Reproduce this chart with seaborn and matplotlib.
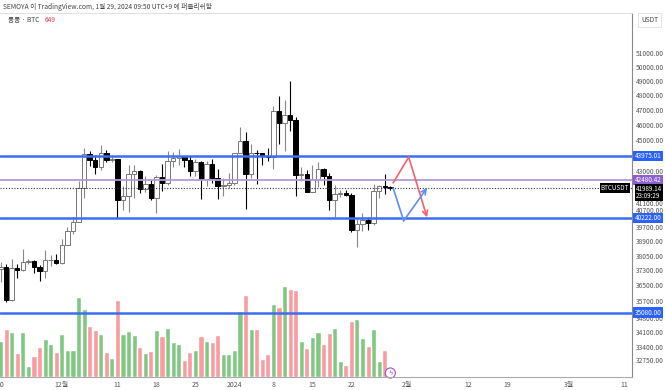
import pandas as pd
import numpy as np
import matplotlib
matplotlib.use('Agg')
import matplotlib.pyplot as plt
import seaborn as sns

# Datos diarios BTCUSDT (20 nov 2023 - 29 ene 2024)
start_date = '2023-11-20'
open_prices = [37359]
close_prices = [37448, 35741, 37410, 37289, 37720, 37796, 37479, 37254, 37832, 37858,
                37712, 38688, 39476, 39978, 41980, 44080, 43746, 43293, 44171, 43713,
                43789, 41244, 41492, 42869, 43023, 41941, 42261, 41365, 42660, 42265,
                43668, 43861, 43970, 43703, 43016, 43614, 42520, 43442, 42627, 42099,
                42156, 42283, 44179, 44946, 42845, 44151, 44145, 43968, 43929, 46951,
                46110, 46633, 46339, 42782, 42847, 41733, 42511, 43143, 42742, 41262,
                41618, 41665, 41545, 39507, 39845, 40077, 39934, 41816, 42120, 42031,
                41989.14]
high_prices = [37750, 37649, 37881, 37653, 38432, 37892, 37837, 37589, 38400, 38150,
               38175, 38999, 39676, 40250, 42420, 44488, 44295, 44042, 44700, 44358,
               44049, 43805, 42104, 43431, 43420, 43079, 42700, 42448, 42767, 43488,
               44283, 44242, 44398, 43988, 43946, 43800, 43637, 43684, 43805, 43125,
               42612, 42899, 44184, 45879, 45500, 44729, 44339, 44187, 44495, 47248,
               47972, 47695, 48969, 46515, 43257, 43080, 43400, 43578, 43198, 42930,
               42195, 41840, 41870, 41689, 40129, 40498, 40288, 42246, 42200, 42842,
               42090]
low_prices = [36681, 35632, 35700, 36870, 37251, 37617, 37150, 36722, 36882, 37500,
              37650, 37615, 38650, 39287, 39978, 41415, 43336, 42821, 43081, 43584,
              43565, 40222, 40680, 40555, 41400, 41700, 41740, 41250, 40500, 41792,
              42180, 43300, 43412, 43292, 42749, 42720, 41300, 42088, 42285, 41300,
              41520, 41965, 42180, 44148, 40750, 42613, 42258, 43400, 43662, 43175,
              44748, 44300, 45606, 41500, 42436, 41720, 41718, 42050, 42200, 40683,
              40280, 41446, 41500, 39431, 38555, 39485, 39506, 39822, 41395, 41620,
              41860]
volume_k = [36, 48, 45, 24, 45, 11, 21, 30, 38, 33, 25, 43, 27, 27, 80, 68, 51, 47, 43, 25,
            19, 77, 43, 46, 42, 30, 24, 26, 47, 41, 49, 35, 33, 17, 25, 27, 41, 36, 35, 42,
            23, 23, 27, 66, 82, 48, 48, 18, 23, 73, 70, 91, 88, 87, 36, 29, 40, 45, 33, 44,
            49, 16, 12, 56, 58, 39, 31, 48, 16, 27, 1.5]
open_prices = open_prices + close_prices[:-1]

# Lineas horizontales y precio actual
blue_levels = [43975.01, 40222.00, 35080.00]
purple_level = 42480.42
last_price = 41989.14
countdown = '23:09:29'

# Escenarios dibujados (dia desde inicio, precio)
red_path_day = [70.5, 73.3, 76.6]
red_path_price = [42300, 43900, 40250]
blue_path_day = [70.5, 72.4, 76.6]
blue_path_price = [41990, 40050, 42000]

# Eje de precios y fechas
price_ticks = [51000, 50000, 49000, 48000, 47000, 46000, 45000, 43000, 41100, 40700,
               39700, 38900, 38050, 37300, 36500, 35700, 34800, 34100, 33400, 32750]
date_ticks = ['2023-11-20', '2023-12-01', '2023-12-11', '2023-12-18', '2023-12-25',
              '2024-01-01', '2024-01-08', '2024-01-15', '2024-01-22', '2024-02-01',
              '2024-02-12', '2024-02-19', '2024-03-01', '2024-03-11']
date_labels = ['20', '12월', '11', '18', '25', '2024', '8', '15', '22', '2월',
               '12', '19', '3월', '11']

sns.set_style('white')
plt.rcParams['font.family'] = ['Noto Sans CJK KR', 'DejaVu Sans']

dates = pd.date_range(start_date, periods=len(close_prices), freq='D')
df = pd.DataFrame({'day': (dates - dates[0]).days,
                   'open': open_prices, 'high': high_prices,
                   'low': low_prices, 'close': close_prices,
                   'volume': volume_k})
df['dir'] = np.where(df['close'] >= df['open'], 'up', 'down')

fig = plt.figure(figsize=(6.65, 3.9), dpi=100, facecolor='white')
ax = fig.add_axes([0, 13 / 390, 632 / 665, 364 / 390])
ax2 = ax.twinx()
ax2.set_zorder(ax.get_zorder() - 1)
ax.patch.set_visible(False)

# Volumen
sns.barplot(data=df, x='day', y='volume', hue='dir', native_scale=True,
            palette={'up': '#80c882', 'down': '#f99ba0'}, width=0.92,
            dodge=False, errorbar=None, saturation=1, legend=False, ax=ax2)
ax2.set_ylim(0, 364)
ax2.set_yticks([])
ax2.set_ylabel('')
for s in ax2.spines.values():
    s.set_visible(False)

# Velas
up = df[df['dir'] == 'up']
down = df[df['dir'] == 'down']
ax.vlines(up['day'], up['low'], up['high'], color='#888888', lw=0.8, zorder=2)
ax.vlines(down['day'], down['low'], down['high'], color='black', lw=0.8, zorder=2)
body_min = df['open'] * 0.0007
for sub, fc, ec in [(up, 'white', '#777777'), (down, 'black', 'black')]:
    bottom = np.minimum(sub['open'], sub['close'])
    height = np.maximum((sub['close'] - sub['open']).abs(), body_min[sub.index])
    ax.bar(sub['day'], height, bottom=bottom, width=0.8, color=fc,
           edgecolor=ec, linewidth=0.7, zorder=3)

# Niveles
for lv in blue_levels:
    ax.axhline(lv, color='#3b6ef0', lw=1.8, zorder=4)
ax.axhline(purple_level, color='#b49ad8', lw=1.3, zorder=4)
ax.axhline(last_price, color='#333333', lw=0.8, ls=(0, (1, 1.5)), zorder=4)

# Escenarios
ax.plot(red_path_day[:2], red_path_price[:2], color='#f5606a', lw=1.2, zorder=5)
ax.annotate('', xy=(red_path_day[2], red_path_price[2]),
            xytext=(red_path_day[1], red_path_price[1]),
            arrowprops=dict(arrowstyle='->', color='#f5606a', lw=1.2,
                            mutation_scale=9, shrinkA=0, shrinkB=0), zorder=5)
ax.plot(blue_path_day[:2], blue_path_price[:2], color='#5b8ef5', lw=1.2, zorder=5)
ax.annotate('', xy=(blue_path_day[2], blue_path_price[2]),
            xytext=(blue_path_day[1], blue_path_price[1]),
            arrowprops=dict(arrowstyle='->', color='#5b8ef5', lw=1.2,
                            mutation_scale=9, shrinkA=0, shrinkB=0), zorder=5)

# Ejes
ax.set_yscale('log')
ax.set_ylim(31975, 54037)
ax.set_xlim(-0.1, 113.4)
ax.yaxis.tick_right()
ax.yaxis.set_minor_locator(matplotlib.ticker.NullLocator())
ax.set_yticks(price_ticks)
ax.set_yticklabels([f'{p:.2f}' for p in price_ticks])
tick_pos = [(pd.Timestamp(d) - dates[0]).days for d in date_ticks]
ax.set_xticks(tick_pos)
ax.set_xticklabels(date_labels)
ax.tick_params(axis='y', length=0, pad=3, labelsize=4.8, colors='#555555')
ax.tick_params(axis='x', length=0, pad=3, labelsize=5.0, colors='#555555')
ax.set_xlabel('')
ax.set_ylabel('')
ax.spines['left'].set_visible(False)
ax.spines['top'].set_color('#e0e0e0')
ax.spines['right'].set_color('#888888')
ax.spines['bottom'].set_color('#aaaaaa')

# Etiquetas en el eje de precios
ytr = ax.get_yaxis_transform()
box_kw = dict(transform=ytr, ha='left', va='center', fontsize=4.6, color='white',
              zorder=10, clip_on=False)
for lv in blue_levels:
    ax.text(1.004, lv, f'{lv:.2f}', **box_kw,
            bbox=dict(boxstyle='square,pad=0.2', fc='#2962ff', ec='none'))
ax.text(1.004, purple_level, f'{purple_level:.2f}', **box_kw,
        bbox=dict(boxstyle='square,pad=0.2', fc='#8c5fd0', ec='none'))
ax.annotate(f'{last_price:.2f}\n{countdown}', xy=(1.0, last_price), xycoords=ytr,
            xytext=(3, 2.5), textcoords='offset points', ha='left', va='top',
            fontsize=4.5, color='white', linespacing=0.9, zorder=10,
            annotation_clip=False,
            bbox=dict(boxstyle='square,pad=0.15', fc='black', ec='none'))
ax.annotate('BTCUSDT', xy=(1.0, last_price), xycoords=ytr, xytext=(-2, 0),
            textcoords='offset points', ha='right', va='center', fontsize=4.5,
            color='white', zorder=10, annotation_clip=False,
            bbox=dict(boxstyle='square,pad=0.2', fc='black', ec='none'))

# Icono en el volumen
ax2.text(df['day'].iloc[-1], 4, 'ϟ', ha='center', va='center', fontsize=5,
         color='#9c4fd6', zorder=6,
         bbox=dict(boxstyle='circle,pad=0.15', fc='white', ec='#9c4fd6', lw=0.8))

# Encabezado
fig.text(3 / 665, 1 - 7 / 390,
         'SEMOYA 이 TradingView.com, 1월 29, 2024 09:50 UTC+9 에 퍼블리쉬함',
         fontsize=4.8, color='#444444', va='center')
fig.text(8 / 665, 1 - 20 / 390, '롱롱 · BTC', fontsize=4.8, color='#444444', va='center')
fig.text(45 / 665, 1 - 20 / 390, '649', fontsize=4.8, color='#f23645', va='center')
fig.text(641 / 665, 1 - 20 / 390, 'USDT', fontsize=4.8, color='#444444', va='center',
         bbox=dict(boxstyle='square,pad=0.4', fc='white', ec='#e0e0e0', lw=0.6))

fig.savefig('out.png', dpi=100)
